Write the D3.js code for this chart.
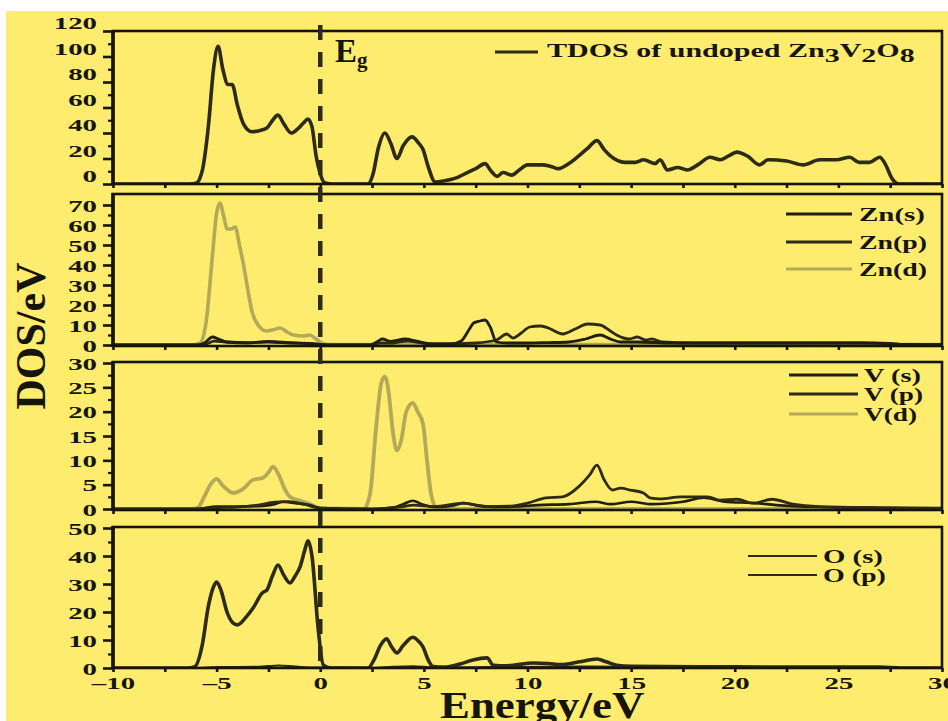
<!DOCTYPE html>
<html><head><meta charset="utf-8">
<script src="https://cdnjs.cloudflare.com/ajax/libs/d3/7.8.5/d3.min.js"></script>
<style>body{margin:0;background:#fff}svg{display:block}</style>
</head><body><svg id="c" width="948" height="721"></svg>
<script>
// ---------- data (energy eV, DOS states/eV) ----------
const energyTicks = [-10,-5,0,5,10,15,20,25,30];
const tdosTicks = [0,20,40,60,80,100,120];
const znTicks = [0,10,20,30,40,50,60,70];
const vTicks = [0,5,10,15,20,25,30];
const oTicks = [0,10,20,30,40,50];

const tdos = [[-10,0],[-6.3,0],[-6.0,0.5],[-5.7,10],[-5.4,45],[-5.15,90],[-4.93,108],[-4.7,90],[-4.45,78],[-4.25,78],[-4.0,62],[-3.7,47],[-3.3,41],[-2.9,42],[-2.57,44],[-2.3,50],[-2.04,54],[-1.75,47],[-1.4,40],[-1.1,43],[-0.8,48],[-0.6,51],[-0.4,45],[-0.2,22],[0.0,8],[0.2,1],[0.5,0],[2.3,0],[2.55,8],[2.8,28],[3.12,40],[3.4,32],[3.7,20],[4.0,30],[4.43,37],[4.75,32],[4.96,27],[5.2,14],[5.55,1.5],[6.0,2.5],[6.6,5],[7.1,9],[7.5,12],[7.95,16],[8.25,10],[8.53,6],[8.82,9],[9.25,7],[9.6,11],[10.0,15],[10.7,15],[11.1,14],[11.5,12],[12.0,16],[12.4,21],[12.9,28],[13.35,34],[13.7,27],[14.0,22],[14.7,17],[15.2,17],[15.6,19],[16.15,16],[16.4,19],[16.75,11],[17.25,13],[17.7,11],[18.3,16],[18.8,21],[19.3,19],[19.7,22],[20.1,25],[20.6,22],[21.2,15],[21.6,19],[22.5,18],[23.3,15],[24.1,19],[24.9,19],[25.55,21],[26.0,17],[26.5,17],[27.0,21],[27.25,16],[27.6,4],[27.9,0],[30,0]];

const znS = [[-10,0],[-6,0],[-5.6,1],[-5.2,4],[-4.9,3],[-4.5,1.5],[-3.5,1.2],[-2.5,1.5],[-1.5,1],[-0.5,0.8],[0,0.3],[0.5,0],[2.4,0],[2.8,2],[3.0,3],[3.4,1.8],[4.1,3],[4.6,2],[5.4,0.5],[6.3,0.5],[6.8,2],[7.2,8],[7.4,11],[7.7,12],[7.95,12.5],[8.2,9],[8.5,1.5],[9.0,1],[10,1],[11,1.2],[12,1.5],[12.8,3],[13.5,5],[14.0,3],[14.5,1.5],[15.3,1.5],[17,1],[20,1],[24,1],[27,0.8],[28,0.3],[30,0.2]];
const znP = [[-10,0],[-6,0],[-5.5,0.5],[-5.1,2],[-4.6,1.5],[-3.5,1],[-2.5,1.8],[-1.5,1.2],[0,0.3],[0.5,0],[2.4,0],[2.9,1],[3.5,1],[4.2,2],[5,0.8],[6,0.5],[7.5,1],[8.5,2.5],[9.0,5.5],[9.3,3.5],[9.7,6],[10.1,9],[10.6,9.5],[11.0,8.5],[11.7,5.5],[12.3,8],[12.9,10.5],[13.5,10],[14.0,7],[14.3,5],[14.9,3],[15.3,4],[15.7,2.5],[16,3],[16.5,1.5],[18,1],[22,1],[26,1.2],[27.5,0.8],[28,0.3],[30,0.2]];
const znD = [[-10,0],[-6.2,0],[-5.8,1],[-5.5,12],[-5.2,45],[-5.0,66],[-4.84,71],[-4.65,64],[-4.5,58],[-4.3,58],[-4.1,59],[-3.9,50],[-3.7,40],[-3.5,28],[-3.3,17],[-3.0,10],[-2.6,7],[-2.3,7.5],[-1.94,8.5],[-1.6,6.5],[-1.3,5],[-0.8,4.5],[-0.5,5],[-0.2,3],[0.2,0.5],[0.6,0.2],[30,0.2]];

const vS = [[-10,0],[-6,0],[-5,0.5],[-4,0.5],[-3,0.6],[-2.2,1],[-1.8,1.5],[-1.2,1.2],[-0.5,0.8],[0,0.2],[2.5,0],[3.5,0.3],[4.0,1],[4.47,1.7],[4.9,1],[5.5,0.4],[6.5,0.8],[6.9,1.2],[7.5,0.8],[8.5,0.4],[9.5,0.5],[10.5,0.8],[12,1],[13.3,1.5],[14,1],[15,1.5],[16,1],[17.5,1.5],[18.5,2.3],[19.5,1.5],[21,1.2],[22,0.8],[24,0.4],[27,0.2],[30,0.1]];
const vP = [[-10,0],[-6,0],[-5,0.3],[-4,0.4],[-3,0.8],[-2.2,1.4],[-1.5,1.5],[-0.8,1],[0,0.2],[2.5,0],[4.0,0.5],[4.5,0.8],[5.5,0.5],[6.9,1.2],[8.0,0.5],[9.2,0.6],[10.0,1.2],[10.9,2.3],[11.7,2.5],[12.5,4.7],[13.0,7],[13.35,9],[13.7,6],[14.1,3.9],[14.5,4.3],[14.95,3.9],[15.6,3.3],[15.9,2.3],[16.4,2.1],[17.4,2.5],[18.7,2.5],[19.3,1.8],[20.1,2],[20.9,1.2],[21.8,2],[22.8,1],[24.1,0.5],[27,0.3],[30,0.2]];
const vD = [[-10,0],[-6.2,0],[-5.9,0.3],[-5.6,2.5],[-5.3,5],[-5.0,6.2],[-4.7,4.8],[-4.2,3.3],[-3.7,4.2],[-3.24,6],[-2.76,6.4],[-2.5,7.5],[-2.28,8.7],[-2.0,7],[-1.7,4],[-1.46,2.5],[-0.9,1.6],[-0.5,1],[0,0.1],[2.1,0],[2.4,3],[2.7,17],[2.95,26],[3.12,27.2],[3.3,24],[3.5,16],[3.7,12],[3.9,14],[4.15,20],[4.47,21.8],[4.7,20],[4.96,17.5],[5.15,10],[5.35,3],[5.6,0.3],[6,0],[30,0]];

const oS = [[-10,0],[-6,0],[-5,0.3],[-3,0.4],[-2,0.9],[-1.2,0.5],[0,0.1],[2.5,0],[3.5,0.4],[4.5,0.6],[5.5,0.2],[8,0.3],[13,0.5],[20,0.2],[30,0]];
const oP = [[-10,0],[-6.4,0],[-6.05,0.5],[-5.7,8],[-5.4,22],[-5.15,29],[-5.0,30.7],[-4.8,28],[-4.5,20],[-4.2,16],[-4.0,15.4],[-3.6,18],[-3.24,21.4],[-2.8,26.8],[-2.57,27.9],[-2.3,33],[-2.04,36.8],[-1.75,33],[-1.46,30.4],[-1.2,33],[-0.98,36],[-0.75,42],[-0.59,45.4],[-0.4,40],[-0.1,14],[0.15,1],[0.5,0],[2.3,0],[2.6,3],[2.9,8],[3.2,10.4],[3.45,7.5],[3.7,5.4],[4.0,8],[4.47,11],[4.75,9.5],[4.96,7.5],[5.2,3],[5.45,0.5],[6.0,0.3],[6.74,1.4],[7.37,2.9],[8.05,3.6],[8.35,1],[9,0.8],[10.27,1.8],[11,1.6],[11.6,1.2],[12.5,2.2],[13.35,3.2],[13.8,2.2],[14.3,1],[15,0.6],[20,0.4],[27,0.3],[28,0],[30,0]];

// ---------- drawing ----------
const DARK = '#2d2b16', DARK2 = '#1f1e0f', LIGHT = '#b4a959', TXT = '#16150a';
const FONT = '"Liberation Serif","Times New Roman",serif';
const svg = d3.select('#c');
svg.append('rect').attr('x',6).attr('y',11).attr('width',942).attr('height',710).attr('fill','#FDEC6D');

const x = d3.scaleLinear().domain([-10,30]).range([113,942]);

function fitWidth(t, target, ax){
  const w = t.node().getBBox().width;
  const s = target / w;
  t.attr('transform', `translate(${ax},0) scale(${s},1) translate(${-ax},0)`);
}

const panels = [
  {top:31,bottom:184,dom:[0,120],range:[184,31],ticks:tdosTicks,minor:10,labelDy:-8,
   series:[{d:tdos,c:DARK,w:3.6}],
   legend:[{label:null,c:DARK,w:3,y:52}], lx1:495, lx2:538},
  {top:194,bottom:346,dom:[0,70],range:[345,205],ticks:znTicks,minor:5,labelDy:0,
   series:[{d:znD,c:LIGHT,w:3.6},{d:znP,c:DARK,w:2.8},{d:znS,c:DARK2,w:2.8}],
   legend:[{label:'Zn(s)',c:DARK2,w:3,y:214,tw:66},{label:'Zn(p)',c:DARK,w:3,y:242,tw:68},{label:'Zn(d)',c:LIGHT,w:3,y:269,tw:68}], lx1:786, lx2:852, tx:859},
  {top:362,bottom:510,dom:[0,30],range:[509,363],ticks:vTicks,minor:2.5,labelDy:0,
   series:[{d:vD,c:LIGHT,w:3.8},{d:vS,c:DARK2,w:2.6},{d:vP,c:DARK,w:2.8}],
   legend:[{label:'V (s)',c:DARK2,w:3,y:375,tw:57},{label:'V (p)',c:DARK,w:3,y:394,tw:59},{label:'V(d)',c:LIGHT,w:3,y:414,tw:53}], lx1:789, lx2:858, tx:864},
  {top:527,bottom:668,dom:[0,50],range:[668,528],ticks:oTicks,minor:5,labelDy:0,
   series:[{d:oS,c:DARK,w:2.2},{d:oP,c:DARK,w:3.6}],
   legend:[{label:'O (s)',c:DARK,w:2.2,y:556,tw:60},{label:'O (p)',c:DARK,w:2.2,y:575,tw:63}], lx1:748, lx2:817, tx:823}
];

panels.forEach((p,i)=>{
  const y = d3.scaleLinear().domain(p.dom).range(p.range);
  const g = svg.append('g');
  const cid = 'clip'+i;
  svg.append('clipPath').attr('id',cid).append('rect')
    .attr('x',113).attr('y',p.top).attr('width',829).attr('height',p.bottom-p.top);
  const line = d3.line().x(d=>x(d[0])).y(d=>y(d[1])).curve(d3.curveMonotoneX);
  const lg = g.append('g').attr('clip-path',`url(#${cid})`);
  p.series.forEach(s=>{
    lg.append('path').attr('d',line(s.d)).attr('fill','none').attr('stroke',s.c)
      .attr('stroke-width',s.w).attr('stroke-linejoin','round').attr('stroke-linecap','round');
  });
  // minor y ticks
  const minorVals = d3.range(p.dom[0], p.ticks[p.ticks.length-1]+0.001, p.minor).filter(v=>!p.ticks.includes(v));
  const ym = g.append('g').attr('transform','translate(113,0)')
    .call(d3.axisLeft(y).tickValues(minorVals).tickSize(5).tickFormat(''));
  ym.select('.domain').remove();
  ym.selectAll('line').attr('stroke',TXT).attr('stroke-width',2.2);
  // major y ticks
  const ya = g.append('g').attr('transform','translate(113,0)')
    .call(d3.axisLeft(y).tickValues(p.ticks).tickSize(10).tickPadding(6).tickFormat(d3.format('d')));
  ya.select('.domain').remove();
  ya.selectAll('line').attr('stroke',TXT).attr('stroke-width',2.6);
  ya.selectAll('text').attr('font-family',FONT).attr('font-weight','bold').attr('font-size',17.5)
    .attr('fill',TXT).attr('dy',(p.labelDy===0?'0.35em':null))
    .each(function(){
      const t = d3.select(this);
      if(p.labelDy!==0){ t.attr('dy',null).attr('y',p.labelDy).attr('dominant-baseline','central'); }
      t.attr('transform','translate(-16,0) scale(1.65,1) translate(16,0)');
    });
  // bottom ticks
  const xa = g.append('g').attr('transform',`translate(0,${p.bottom})`)
    .call(d3.axisBottom(x).tickValues(d3.range(-10,30.01,2.5)).tickSize(4).tickFormat(''));
  xa.select('.domain').remove();
  xa.selectAll('line').attr('stroke',TXT).attr('stroke-width',2.6);
  // frame
  g.append('rect').attr('x',113).attr('y',p.top).attr('width',829).attr('height',p.bottom-p.top)
    .attr('fill','none').attr('stroke',TXT).attr('stroke-width',2.6);
  g.append('line').attr('x1',113).attr('x2',113).attr('y1',p.top-1).attr('y2',p.bottom+1)
    .attr('stroke',TXT).attr('stroke-width',3.6);
  // legend
  p.legend.forEach(l=>{
    g.append('line').attr('x1',p.lx1).attr('x2',p.lx2).attr('y1',l.y).attr('y2',l.y)
      .attr('stroke',l.c).attr('stroke-width',l.w);
    if(l.label){
      const t = g.append('text').attr('x',p.tx).attr('y',l.y+7).text(l.label)
        .attr('font-family',FONT).attr('font-weight','bold').attr('font-size',19).attr('fill',TXT);
      fitWidth(t,l.tw,p.tx);
    }
  });
  if(i===3){
    const xl = g.append('g').attr('transform',`translate(0,${p.bottom})`)
      .call(d3.axisBottom(x).tickValues(energyTicks).tickSize(0).tickPadding(9)
        .tickFormat(d=>d<0?'\u2013'+Math.abs(d):d));
    xl.select('.domain').remove();
    xl.selectAll('text').attr('font-family',FONT).attr('font-weight','bold').attr('font-size',17.5)
      .attr('fill',TXT).attr('transform','scale(1.65,1)');
  }
});

// TDOS legend text with subscripts
const tl = svg.append('text').attr('x',547).attr('y',57)
  .attr('font-family',FONT).attr('font-weight','bold').attr('font-size',18.5).attr('fill',TXT);
tl.append('tspan').text('TDOS of undoped Zn');
tl.append('tspan').attr('dy',5).text('3');
tl.append('tspan').attr('dy',-5).text('V');
tl.append('tspan').attr('dy',5).text('2');
tl.append('tspan').attr('dy',-5).text('O');
tl.append('tspan').attr('dy',5).text('8');
fitWidth(tl,368,547);

// Fermi / gap dashed line
svg.append('line').attr('x1',x(0)).attr('x2',x(0)).attr('y1',25).attr('y2',672)
  .attr('stroke',DARK).attr('stroke-width',4.5).attr('stroke-dasharray','15,12');

// Eg label
const eg = svg.append('text').attr('x',335).attr('y',62)
  .attr('font-family',FONT).attr('font-weight','bold').attr('font-size',33).attr('fill',TXT);
eg.append('tspan').text('E');
eg.append('tspan').attr('dy',5).attr('font-size',21).text('g');

// axis titles
const yt = svg.append('text').attr('transform','translate(45,336) rotate(-90)')
  .attr('text-anchor','middle').attr('font-family',FONT).attr('font-weight','bold')
  .attr('font-size',42).attr('fill',TXT).text('DOS/eV');
const xt = svg.append('text').attr('x',440).attr('y',718)
  .attr('font-family',FONT).attr('font-weight','bold').attr('font-size',38).attr('fill',TXT).text('Energy/eV');
fitWidth(xt,205,440);
</script>
</body></html>
